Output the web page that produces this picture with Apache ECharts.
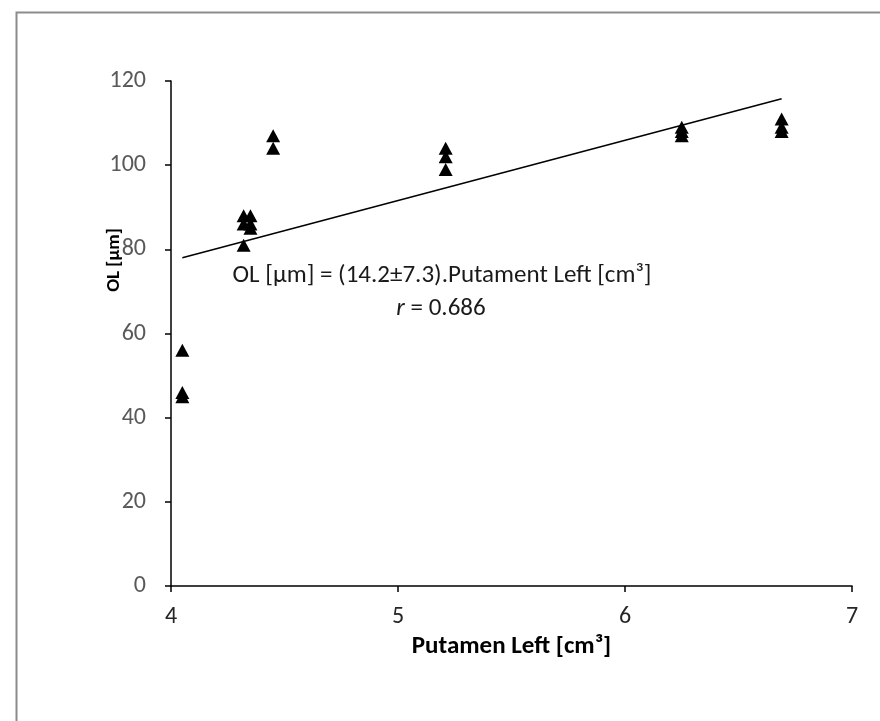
<!DOCTYPE html>
<html>
<head>
<meta charset="utf-8">
<script src="https://cdn.jsdelivr.net/npm/echarts@6/dist/echarts.min.js"></script>
<style>
  html, body { margin: 0; padding: 0; background: #fff; }
  #chart { width: 880px; height: 721px; }
</style>
</head>
<body>
<div id="chart"></div>
<script>
// measured points, putamen left volume vs OL
var putamenLeft = [4.05, 4.05, 4.05, 4.32, 4.32, 4.32, 4.35, 4.35, 4.35, 4.45, 4.45,
  5.21, 5.21, 5.21, 6.25, 6.25, 6.25, 6.69, 6.69, 6.69]
var olValues = [56, 46, 45, 88, 86, 81, 88, 86, 85, 107, 104,
  104, 102, 99, 109, 108, 107, 111, 109, 108]
// fitted line ends
var trendX = [4.05, 6.69]
var trendY = [78, 115.8]
var xTicks = [4, 5, 6, 7]
var yTicks = [0, 20, 40, 60, 80, 100, 120]

var font = 'Carlito, Lato, sans-serif'

var points = putamenLeft.map(function (x, i) { return [x, olValues[i]] })
var trend = trendX.map(function (x, i) { return [x, trendY[i]] })

var myChart = echarts.init(document.getElementById('chart'), null, { renderer: 'canvas' })

myChart.setOption({
  animation: false,
  backgroundColor: '#fff',
  grid: { left: 171, right: 28, top: 81, bottom: 135 },
  xAxis: {
    type: 'value',
    min: xTicks[0],
    max: xTicks[xTicks.length - 1],
    interval: 1,
    name: 'Putamen Left [cm³]',
    nameLocation: 'middle',
    nameGap: 33,
    nameTextStyle: { fontFamily: font, fontSize: 25, fontWeight: 'bold', color: '#000', verticalAlign: 'top' },
    axisLine: { lineStyle: { color: '#000', width: 1.5 } },
    axisTick: { show: true, inside: false, length: 6, lineStyle: { color: '#000', width: 1.5 } },
    axisLabel: { fontFamily: font, fontSize: 24, color: '#262626', margin: 19 },
    splitLine: { show: false }
  },
  yAxis: {
    type: 'value',
    min: yTicks[0],
    max: yTicks[yTicks.length - 1],
    interval: 20,
    axisLine: { show: true, lineStyle: { color: '#000', width: 1.5 } },
    axisTick: { show: true, inside: false, length: 6, lineStyle: { color: '#000', width: 1.5 } },
    axisLabel: { fontFamily: font, fontSize: 24, color: '#595959', margin: 25 },
    splitLine: { show: false }
  },
  graphic: [
    {
      type: 'rect',
      left: 14, top: 10,
      shape: { width: 900, height: 800 },
      style: { fill: 'none', stroke: '#8c8c8c', lineWidth: 2 },
      silent: true
    },
    {
      type: 'text',
      x: 114, y: 260,
      rotation: Math.PI / 2,
      style: {
        text: 'OL [µm]',
        font: 'bold 19px ' + font,
        fill: '#000',
        align: 'center',
        verticalAlign: 'middle'
      }
    },
    {
      type: 'text',
      x: 442, y: 276,
      style: {
        text: 'OL [µm] = (14.2±7.3).Putament Left [cm³]',
        font: '25px ' + font,
        fill: '#1a1a1a',
        align: 'center',
        verticalAlign: 'middle'
      }
    },
    {
      type: 'text',
      x: 441, y: 309,
      style: {
        text: '{i|r} = 0.686',
        font: '25px ' + font,
        fill: '#1a1a1a',
        align: 'center',
        verticalAlign: 'middle',
        rich: { i: { fontStyle: 'italic', fontFamily: font, fontSize: 25, fill: '#1a1a1a' } }
      }
    }
  ],
  series: [
    {
      type: 'line',
      data: trend,
      symbol: 'none',
      lineStyle: { color: '#000', width: 1.5 },
      z: 2
    },
    {
      type: 'scatter',
      data: points,
      symbol: 'triangle',
      symbolSize: [14, 13],
      itemStyle: { color: '#000', opacity: 1 },
      z: 3
    }
  ]
})
</script>
</body>
</html>
